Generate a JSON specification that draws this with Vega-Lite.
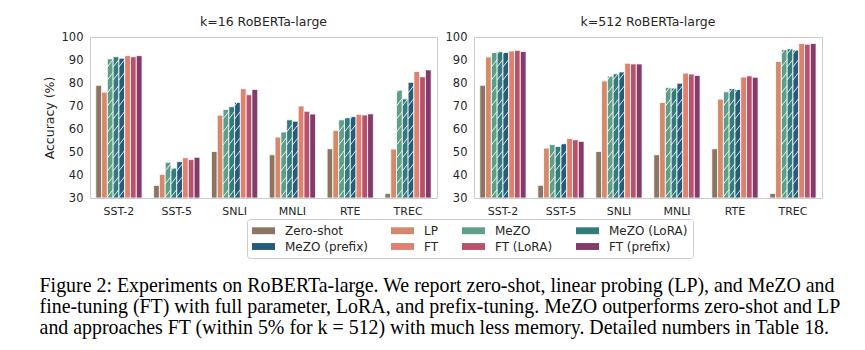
{
  "$schema": "https://vega.github.io/schema/vega-lite/v6.json",
  "padding": {"left": 39, "top": 15, "right": 5, "bottom": 5},
  "background": "white",
  "config": {
    "font": "DejaVu Sans",
    "view": {"stroke": "#cccccc", "strokeWidth": 1},
    "axis": {"labelColor": "#262626", "titleColor": "#262626", "labelFont": "DejaVu Sans", "titleFont": "DejaVu Sans", "titleFontWeight": "normal", "labelOverlap": false}
  },
  "data": {"values": [
    {"k": 16, "task": "SST-2", "method": "Zero-shot", "value": 79.0},
    {"k": 16, "task": "SST-2", "method": "LP", "value": 76.0},
    {"k": 16, "task": "SST-2", "method": "MeZO", "value": 90.5},
    {"k": 16, "task": "SST-2", "method": "MeZO (LoRA)", "value": 91.4},
    {"k": 16, "task": "SST-2", "method": "MeZO (prefix)", "value": 90.8},
    {"k": 16, "task": "SST-2", "method": "FT", "value": 91.9},
    {"k": 16, "task": "SST-2", "method": "FT (LoRA)", "value": 91.4},
    {"k": 16, "task": "SST-2", "method": "FT (prefix)", "value": 91.9},
    {"k": 16, "task": "SST-5", "method": "Zero-shot", "value": 35.5},
    {"k": 16, "task": "SST-5", "method": "LP", "value": 40.3},
    {"k": 16, "task": "SST-5", "method": "MeZO", "value": 45.5},
    {"k": 16, "task": "SST-5", "method": "MeZO (LoRA)", "value": 43.0},
    {"k": 16, "task": "SST-5", "method": "MeZO (prefix)", "value": 45.8},
    {"k": 16, "task": "SST-5", "method": "FT", "value": 47.5},
    {"k": 16, "task": "SST-5", "method": "FT (LoRA)", "value": 46.7},
    {"k": 16, "task": "SST-5", "method": "FT (prefix)", "value": 47.7},
    {"k": 16, "task": "SNLI", "method": "Zero-shot", "value": 50.2},
    {"k": 16, "task": "SNLI", "method": "LP", "value": 66.0},
    {"k": 16, "task": "SNLI", "method": "MeZO", "value": 68.5},
    {"k": 16, "task": "SNLI", "method": "MeZO (LoRA)", "value": 69.7},
    {"k": 16, "task": "SNLI", "method": "MeZO (prefix)", "value": 71.6},
    {"k": 16, "task": "SNLI", "method": "FT", "value": 77.5},
    {"k": 16, "task": "SNLI", "method": "FT (LoRA)", "value": 74.9},
    {"k": 16, "task": "SNLI", "method": "FT (prefix)", "value": 77.2},
    {"k": 16, "task": "MNLI", "method": "Zero-shot", "value": 48.8},
    {"k": 16, "task": "MNLI", "method": "LP", "value": 56.5},
    {"k": 16, "task": "MNLI", "method": "MeZO", "value": 58.7},
    {"k": 16, "task": "MNLI", "method": "MeZO (LoRA)", "value": 64.0},
    {"k": 16, "task": "MNLI", "method": "MeZO (prefix)", "value": 63.4},
    {"k": 16, "task": "MNLI", "method": "FT", "value": 70.0},
    {"k": 16, "task": "MNLI", "method": "FT (LoRA)", "value": 67.7},
    {"k": 16, "task": "MNLI", "method": "FT (prefix)", "value": 66.5},
    {"k": 16, "task": "RTE", "method": "Zero-shot", "value": 51.4},
    {"k": 16, "task": "RTE", "method": "LP", "value": 59.4},
    {"k": 16, "task": "RTE", "method": "MeZO", "value": 64.0},
    {"k": 16, "task": "RTE", "method": "MeZO (LoRA)", "value": 64.9},
    {"k": 16, "task": "RTE", "method": "MeZO (prefix)", "value": 65.4},
    {"k": 16, "task": "RTE", "method": "FT", "value": 66.4},
    {"k": 16, "task": "RTE", "method": "FT (LoRA)", "value": 66.1},
    {"k": 16, "task": "RTE", "method": "FT (prefix)", "value": 66.6},
    {"k": 16, "task": "TREC", "method": "Zero-shot", "value": 32.0},
    {"k": 16, "task": "TREC", "method": "LP", "value": 51.3},
    {"k": 16, "task": "TREC", "method": "MeZO", "value": 76.9},
    {"k": 16, "task": "TREC", "method": "MeZO (LoRA)", "value": 73.1},
    {"k": 16, "task": "TREC", "method": "MeZO (prefix)", "value": 80.3},
    {"k": 16, "task": "TREC", "method": "FT", "value": 85.0},
    {"k": 16, "task": "TREC", "method": "FT (LoRA)", "value": 82.7},
    {"k": 16, "task": "TREC", "method": "FT (prefix)", "value": 85.7},
    {"k": 512, "task": "SST-2", "method": "Zero-shot", "value": 79.0},
    {"k": 512, "task": "SST-2", "method": "LP", "value": 91.3},
    {"k": 512, "task": "SST-2", "method": "MeZO", "value": 93.3},
    {"k": 512, "task": "SST-2", "method": "MeZO (LoRA)", "value": 93.6},
    {"k": 512, "task": "SST-2", "method": "MeZO (prefix)", "value": 93.3},
    {"k": 512, "task": "SST-2", "method": "FT", "value": 93.9},
    {"k": 512, "task": "SST-2", "method": "FT (LoRA)", "value": 94.2},
    {"k": 512, "task": "SST-2", "method": "FT (prefix)", "value": 93.7},
    {"k": 512, "task": "SST-5", "method": "Zero-shot", "value": 35.5},
    {"k": 512, "task": "SST-5", "method": "LP", "value": 51.7},
    {"k": 512, "task": "SST-5", "method": "MeZO", "value": 53.2},
    {"k": 512, "task": "SST-5", "method": "MeZO (LoRA)", "value": 52.4},
    {"k": 512, "task": "SST-5", "method": "MeZO (prefix)", "value": 53.6},
    {"k": 512, "task": "SST-5", "method": "FT", "value": 55.9},
    {"k": 512, "task": "SST-5", "method": "FT (LoRA)", "value": 55.3},
    {"k": 512, "task": "SST-5", "method": "FT (prefix)", "value": 54.6},
    {"k": 512, "task": "SNLI", "method": "Zero-shot", "value": 50.2},
    {"k": 512, "task": "SNLI", "method": "LP", "value": 80.9},
    {"k": 512, "task": "SNLI", "method": "MeZO", "value": 83.0},
    {"k": 512, "task": "SNLI", "method": "MeZO (LoRA)", "value": 84.0},
    {"k": 512, "task": "SNLI", "method": "MeZO (prefix)", "value": 84.8},
    {"k": 512, "task": "SNLI", "method": "FT", "value": 88.6},
    {"k": 512, "task": "SNLI", "method": "FT (LoRA)", "value": 88.3},
    {"k": 512, "task": "SNLI", "method": "FT (prefix)", "value": 88.3},
    {"k": 512, "task": "MNLI", "method": "Zero-shot", "value": 48.8},
    {"k": 512, "task": "MNLI", "method": "LP", "value": 71.5},
    {"k": 512, "task": "MNLI", "method": "MeZO", "value": 78.1},
    {"k": 512, "task": "MNLI", "method": "MeZO (LoRA)", "value": 77.8},
    {"k": 512, "task": "MNLI", "method": "MeZO (prefix)", "value": 79.9},
    {"k": 512, "task": "MNLI", "method": "FT", "value": 84.3},
    {"k": 512, "task": "MNLI", "method": "FT (LoRA)", "value": 83.9},
    {"k": 512, "task": "MNLI", "method": "FT (prefix)", "value": 83.3},
    {"k": 512, "task": "RTE", "method": "Zero-shot", "value": 51.4},
    {"k": 512, "task": "RTE", "method": "LP", "value": 73.0},
    {"k": 512, "task": "RTE", "method": "MeZO", "value": 76.2},
    {"k": 512, "task": "RTE", "method": "MeZO (LoRA)", "value": 77.6},
    {"k": 512, "task": "RTE", "method": "MeZO (prefix)", "value": 77.2},
    {"k": 512, "task": "RTE", "method": "FT", "value": 82.6},
    {"k": 512, "task": "RTE", "method": "FT (LoRA)", "value": 83.1},
    {"k": 512, "task": "RTE", "method": "FT (prefix)", "value": 82.5},
    {"k": 512, "task": "TREC", "method": "Zero-shot", "value": 32.0},
    {"k": 512, "task": "TREC", "method": "LP", "value": 89.4},
    {"k": 512, "task": "TREC", "method": "MeZO", "value": 94.6},
    {"k": 512, "task": "TREC", "method": "MeZO (LoRA)", "value": 94.9},
    {"k": 512, "task": "TREC", "method": "MeZO (prefix)", "value": 94.3},
    {"k": 512, "task": "TREC", "method": "FT", "value": 97.2},
    {"k": 512, "task": "TREC", "method": "FT (LoRA)", "value": 96.9},
    {"k": 512, "task": "TREC", "method": "FT (prefix)", "value": 97.2}
  ]},
  "spacing": 6,
  "resolve": {"scale": {"color": "shared"}},
  "title": {
    "text": [
      "Figure 2: Experiments on RoBERTa-large. We report zero-shot, linear probing (LP), and MeZO and",
      "fine-tuning (FT) with full parameter, LoRA, and prefix-tuning. MeZO outperforms zero-shot and LP",
      "and approaches FT (within 5% for k = 512) with much less memory. Detailed numbers in Table 18."
    ],
    "orient": "bottom",
    "anchor": "start",
    "font": "Liberation Serif",
    "fontSize": 19.9,
    "lineHeight": 21,
    "fontWeight": "normal",
    "color": "black",
    "offset": 17,
    "dx": -3
  },
  "hconcat": [
    {
      "width": 347,
      "height": 161,
      "title": {"text": "k=16 RoBERTa-large", "fontSize": 12.5, "fontWeight": "normal", "offset": 3, "color": "#262626", "font": "DejaVu Sans"},
      "transform": [{"filter": "datum.k == 16"}],
      "encoding": {
        "x": {"field": "task", "type": "nominal", "sort": ["SST-2", "SST-5", "SNLI", "MNLI", "RTE", "TREC"], "scale": {"paddingInner": 0.2, "paddingOuter": 0.1},
              "axis": {"title": null, "labelAngle": 0, "ticks": false, "domain": false, "labelPadding": 7, "labelFontSize": 11}},
        "xOffset": {"field": "method", "type": "nominal", "sort": ["Zero-shot", "LP", "MeZO", "MeZO (LoRA)", "MeZO (prefix)", "FT", "FT (LoRA)", "FT (prefix)"], "scale": {"paddingInner": 0, "paddingOuter": 0}}
      },
      "layer": [
        {
          "mark": {"type": "bar", "stroke": "white", "strokeWidth": 0.8, "clip": true},
          "encoding": {
            "y": {"field": "value", "type": "quantitative", "scale": {"domain": [30, 100], "clamp": true, "nice": false},
                  "axis": {"title": "Accuracy (%)", "titleFontSize": 12.5, "titlePadding": 5, "grid": false, "ticks": false, "domain": false, "values": [30, 40, 50, 60, 70, 80, 90, 100], "labelOverlap": false, "labelFontSize": 11.5, "labelPadding": 7}},
            "color": {"field": "method", "type": "nominal", "sort": ["Zero-shot", "LP", "MeZO", "MeZO (LoRA)", "MeZO (prefix)", "FT", "FT (LoRA)", "FT (prefix)"],
                      "scale": {"domain": ["Zero-shot", "LP", "MeZO", "MeZO (LoRA)", "MeZO (prefix)", "FT", "FT (LoRA)", "FT (prefix)"],
                                "range": ["#8c7563", "#d4896a", "#5f9e89", "#347b7c", "#245c7a", "#e0806f", "#b9506c", "#833b6b"]},
                      "legend": {"title": null, "orient": "none", "legendX": 157, "legendY": 182, "direction": "horizontal", "columns": 4,
                                 "symbolType": "M-1.77,-0.53L1.77,-0.53L1.77,0.53L-1.77,0.53Z", "symbolSize": 169, "symbolOffset": 5, "symbolStrokeWidth": 0, "symbolOpacity": 1,
                                 "labelFontSize": 12, "labelColor": "#262626", "labelFont": "DejaVu Sans", "labelOffset": 15, "columnPadding": 22, "rowPadding": 3,
                                 "strokeColor": "#cccccc", "fillColor": "white", "padding": 5, "cornerRadius": 3}}
          }
        },
        {
          "transform": [{"filter": "indexof(['MeZO', 'MeZO (LoRA)', 'MeZO (prefix)'], datum.method) >= 0"}],
          "mark": {"type": "point", "filled": false, "stroke": "white", "strokeWidth": 1, "opacity": 0.85, "size": 400, "clip": true,
                   "shape": "M-0.29,-0.1L0.29,-0.85M-0.29,-1.4L0.29,-2.15M-0.29,-2.7L0.29,-3.45M-0.29,-4L0.29,-4.75M-0.29,-5.3L0.29,-6.05M-0.29,-6.6L0.29,-7.35M-0.29,-7.9L0.29,-8.65M-0.29,-9.2L0.29,-9.95M-0.29,-10.5L0.29,-11.25M-0.29,-11.8L0.29,-12.55M-0.29,-13.1L0.29,-13.85M-0.29,-14.4L0.29,-15.15"},
          "encoding": {"y": {"datum": 30, "type": "quantitative",
                             "axis": {"title": "Accuracy (%)", "titleFontSize": 12.5, "titlePadding": 5, "grid": false, "ticks": false, "domain": false, "values": [30, 40, 50, 60, 70, 80, 90, 100], "labelOverlap": false, "labelFontSize": 11.5, "labelPadding": 7}}}
        }
      ]
    },
    {
      "width": 348,
      "height": 161,
      "title": {"text": "k=512 RoBERTa-large", "fontSize": 12.5, "fontWeight": "normal", "offset": 3, "color": "#262626", "font": "DejaVu Sans"},
      "transform": [{"filter": "datum.k == 512"}],
      "encoding": {
        "x": {"field": "task", "type": "nominal", "sort": ["SST-2", "SST-5", "SNLI", "MNLI", "RTE", "TREC"], "scale": {"paddingInner": 0.2, "paddingOuter": 0.1},
              "axis": {"title": null, "labelAngle": 0, "ticks": false, "domain": false, "labelPadding": 7, "labelFontSize": 11}},
        "xOffset": {"field": "method", "type": "nominal", "sort": ["Zero-shot", "LP", "MeZO", "MeZO (LoRA)", "MeZO (prefix)", "FT", "FT (LoRA)", "FT (prefix)"], "scale": {"paddingInner": 0, "paddingOuter": 0}}
      },
      "layer": [
        {
          "mark": {"type": "bar", "stroke": "white", "strokeWidth": 0.8, "clip": true},
          "encoding": {
            "y": {"field": "value", "type": "quantitative", "scale": {"domain": [30, 100], "clamp": true, "nice": false},
                  "axis": {"title": null, "grid": false, "ticks": false, "domain": false, "values": [30, 40, 50, 60, 70, 80, 90, 100], "labelOverlap": false, "labelFontSize": 11.5, "labelPadding": 7}},
            "color": {"field": "method", "type": "nominal", "sort": ["Zero-shot", "LP", "MeZO", "MeZO (LoRA)", "MeZO (prefix)", "FT", "FT (LoRA)", "FT (prefix)"]}
          }
        },
        {
          "transform": [{"filter": "indexof(['MeZO', 'MeZO (LoRA)', 'MeZO (prefix)'], datum.method) >= 0"}],
          "mark": {"type": "point", "filled": false, "stroke": "white", "strokeWidth": 1, "opacity": 0.85, "size": 400, "clip": true,
                   "shape": "M-0.29,-0.1L0.29,-0.85M-0.29,-1.4L0.29,-2.15M-0.29,-2.7L0.29,-3.45M-0.29,-4L0.29,-4.75M-0.29,-5.3L0.29,-6.05M-0.29,-6.6L0.29,-7.35M-0.29,-7.9L0.29,-8.65M-0.29,-9.2L0.29,-9.95M-0.29,-10.5L0.29,-11.25M-0.29,-11.8L0.29,-12.55M-0.29,-13.1L0.29,-13.85M-0.29,-14.4L0.29,-15.15"},
          "encoding": {"y": {"datum": 30, "type": "quantitative",
                             "axis": {"title": null, "grid": false, "ticks": false, "domain": false, "values": [30, 40, 50, 60, 70, 80, 90, 100], "labelOverlap": false, "labelFontSize": 11.5, "labelPadding": 7}}}
        }
      ]
    }
  ]
}
